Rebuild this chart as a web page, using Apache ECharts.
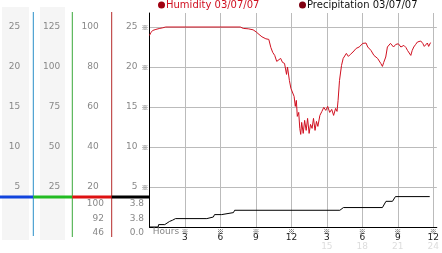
<!DOCTYPE html>
<html><head><meta charset="utf-8">
<script src="https://cdn.jsdelivr.net/npm/echarts@6/dist/echarts.min.js"></script>
<style>html,body{margin:0;padding:0;background:#fff}#c{width:442px;height:253px}</style>
</head><body><div id="c"></div>
<script>
// ---- data ----
const hours = [0,0.12,0.29,0.54,0.87,1.12,1.37,7.68,7.93,8.35,8.76,9.01,9.26,9.51,9.84,10.09,10.26,10.42,10.59,10.76,10.92,11.09,11.25,11.42,11.59,11.67,11.83,11.96,12.08,12.23,12.33,12.42,12.5,12.62,12.71,12.79,12.87,13.0,13.12,13.25,13.37,13.5,13.62,13.75,13.87,14.0,14.12,14.24,14.41,14.58,14.74,14.91,15.07,15.24,15.41,15.57,15.74,15.86,15.95,16.07,16.24,16.38,16.49,16.65,16.82,16.99,17.21,17.48,17.73,18.04,18.15,18.31,18.46,18.73,18.98,19.29,19.56,19.7,19.81,19.98,20.12,20.22,20.38,20.64,20.83,20.95,21.05,21.26,21.51,21.68,21.82,21.93,22.1,22.22,22.35,22.51,22.66,22.94,23.11,23.24,23.36,23.5,23.61,23.77];
const humidity = [95.8,97.3,98.3,98.8,99.3,99.6,100,100,99.3,99.1,98.6,97.6,96.3,95.1,94.1,93.8,89.8,87.3,85.8,82.8,81.8,84.3,82.3,81.8,76.3,80,73.3,69.3,70.3,65.3,60.3,63.3,55.3,57.3,49.3,46.3,52.3,46.8,53.3,48.3,54.3,46.8,51.3,49.3,54.3,48.3,52.8,50.3,55.8,57.8,59.8,58.3,60.3,57.3,58.8,55.8,59.3,57.8,63.3,73.3,80.8,84.3,85.3,86.8,85.3,86.3,87.5,89.3,90,91.8,91.3,92,90,88.3,85.8,84.3,81.8,80.3,82.3,85,90,90.8,91.8,90,91.3,90.8,91.6,90,90.8,89.8,88.3,89.3,85.8,88.3,90,91.3,92.5,93,91.8,90.3,91.3,92,90.3,92.2];
const precipHours = [0,0.73,0.77,1.29,1.43,1.7,1.95,2.2,4.85,4.97,5.4,5.5,6.1,6.2,7.1,7.2,16.1,16.4,19.7,20.0,20.55,20.8,23.7];
const precip = [0,0,0.3,0.3,0.5,0.7,0.85,1.05,1.05,1.25,1.25,1.55,1.55,1.8,1.8,2.09,2.09,2.43,2.43,3.21,3.21,3.8,3.8];
const leftTicks = [5,10,15,20,25];
const col2Ticks = [25,50,75,100,125];
const humTicks = [20,40,60,80,100];
const hourTicks = [3,6,9,12,15,18,21,24];
const hourLabels = ['3','6','9','12','3','6','9','12'];
const hourSecondRow = {15:'15',18:'18',21:'21',24:'24'};
const humName = 'Humidity 03/07/07';
const precName = 'Precipitation 03/07/07';

// ---- layout ----
const FONT = 'DejaVu Sans';
const GL = 149.5, GT = 13, GB = 227, PX = 8;
const yMax = (GB - GT) / PX;
const xMax = 24.3;
const colX = [33.3, 72.3, 111.7];
const LBL = '#888';
const MARK = '※';

const humMax = Math.round(Math.max(...humidity));
const humLast = Math.round(humidity[humidity.length - 1]);
const humMin = Math.round(Math.min(...humidity));
const prMax = Math.max(...precip).toFixed(1);
const prLast = precip[precip.length - 1].toFixed(1);
const prMin = Math.min(...precip).toFixed(1);

function yAx(o) {
  return Object.assign({
    type: 'value', position: 'left', min: 0,
    axisTick: {show: false}, axisLine: {show: false}, splitLine: {show: false},
    axisLabel: {color: LBL, fontSize: 9, fontFamily: FONT, margin: 13}
  }, o);
}
function pick(list) { return v => list.includes(v) ? String(v) : ''; }

const chart = echarts.init(document.getElementById('c'));
chart.setOption({
  animation: false,
  textStyle: {fontFamily: FONT},
  legend: [
    {data: [{name: humName, itemStyle: {color: '#a00010'}}], left: 158, top: 0, padding: 0, icon: 'circle', itemWidth: 7, itemHeight: 7,
     textStyle: {color: '#d01020', fontSize: 10, fontFamily: FONT, padding: [0, 0, 0, -4]}, selectedMode: false},
    {data: [{name: precName, itemStyle: {color: '#800010'}}], left: 299, top: 0, padding: 0, icon: 'circle', itemWidth: 7, itemHeight: 7,
     textStyle: {color: '#111', fontSize: 10, fontFamily: FONT, padding: [0, 0, 0, -4]}, selectedMode: false}
  ],
  grid: {left: GL, right: 0, top: GT, bottom: 253 - GB, containLabel: false},
  xAxis: {
    type: 'value', min: 0, max: xMax, interval: 3,
    axisLine: {show: true, lineStyle: {color: '#000', width: 1}},
    axisTick: {show: false},
    splitLine: {show: true, showMinLine: false, showMaxLine: false, lineStyle: {color: '#bbb', width: 1}},
    axisLabel: {
      margin: 1, showMaxLabel: true,
      formatter: v => {
        if (v === 0) return '{h|Hours}';
        const i = hourTicks.indexOf(v);
        if (i < 0) return '';
        let s = '{m|' + MARK + '}\n{v|' + hourLabels[i] + '}';
        if (hourSecondRow[v]) s += '\n{g|' + hourSecondRow[v] + '}';
        return s;
      },
      rich: {
        h: {fontSize: 9, color: LBL, lineHeight: 7, padding: [0, 0, 0, 33], fontFamily: FONT},
        m: {fontSize: 7, color: '#333', lineHeight: 6, fontFamily: 'Noto Sans CJK JP'},
        v: {fontSize: 9, color: '#222', lineHeight: 8, fontFamily: FONT},
        g: {fontSize: 9, color: '#ddd', lineHeight: 9, fontFamily: FONT}
      }
    }
  },
  yAxis: [
    yAx({max: yMax, interval: 5, offset: 0,
      axisLine: {show: true, lineStyle: {color: '#000', width: 1}},
      splitLine: {show: true, showMinLine: false, showMaxLine: false, lineStyle: {color: '#bbb', width: 1}},
      axisLabel: {margin: 1, formatter: v => leftTicks.includes(v) ? '{v|' + v + '}{m|' + MARK + '}' : '',
        rich: {v: {color: LBL, fontSize: 9, fontFamily: FONT}, m: {fontSize: 7, color: '#333', padding: [0, 0, 0, 4], fontFamily: 'Noto Sans CJK JP'}}}}),
    yAx({max: yMax * 4, interval: 20, offset: GL - colX[2], axisLabel: {color: LBL, fontSize: 9, fontFamily: FONT, margin: 13, formatter: pick(humTicks)}}),
    yAx({max: yMax * 5, interval: 25, offset: GL - colX[1], axisLabel: {color: LBL, fontSize: 9, fontFamily: FONT, margin: 12, formatter: pick(col2Ticks)}}),
    yAx({max: yMax, interval: 5, offset: GL - colX[0], axisLabel: {color: LBL, fontSize: 9, fontFamily: FONT, margin: 13, formatter: pick(leftTicks)}})
  ],
  graphic: [
    {type: 'rect', z: -10, shape: {x: 2, y: 7, width: 27, height: 233}, style: {fill: '#f5f5f5'}},
    {type: 'rect', z: -10, shape: {x: 40, y: 7, width: 25, height: 233}, style: {fill: '#f5f5f5'}},
    {type: 'line', shape: {x1: colX[0], y1: 12, x2: colX[0], y2: 236}, style: {stroke: '#2a8fc8', lineWidth: 1}},
    {type: 'line', shape: {x1: colX[1], y1: 12, x2: colX[1], y2: 237}, style: {stroke: '#3aa83a', lineWidth: 1}},
    {type: 'line', shape: {x1: colX[2], y1: 12, x2: colX[2], y2: 237}, style: {stroke: '#b52a2a', lineWidth: 1}},
    {type: 'rect', shape: {x: 0, y: 195.5, width: colX[0], height: 3}, style: {fill: '#1144dd'}},
    {type: 'rect', shape: {x: colX[0], y: 195.5, width: colX[1] - colX[0], height: 3}, style: {fill: '#22bb22'}},
    {type: 'rect', shape: {x: colX[1], y: 195.5, width: colX[2] - colX[1], height: 3}, style: {fill: '#dd1111'}},
    {type: 'rect', shape: {x: colX[2], y: 195.5, width: GL - colX[2], height: 3}, style: {fill: '#000'}},
    {type: 'text', style: {x: 104, y: 203.5, text: String(humMax), align: 'right', verticalAlign: 'middle', fill: LBL, font: '9px ' + FONT}},
    {type: 'text', style: {x: 104, y: 218.5, text: String(humLast), align: 'right', verticalAlign: 'middle', fill: LBL, font: '9px ' + FONT}},
    {type: 'text', style: {x: 104, y: 232.5, text: String(humMin), align: 'right', verticalAlign: 'middle', fill: LBL, font: '9px ' + FONT}},
    {type: 'text', style: {x: 144, y: 203.5, text: prMax, align: 'right', verticalAlign: 'middle', fill: LBL, font: '9px ' + FONT}},
    {type: 'text', style: {x: 144, y: 218.5, text: prLast, align: 'right', verticalAlign: 'middle', fill: LBL, font: '9px ' + FONT}},
    {type: 'text', style: {x: 144, y: 232.5, text: prMin, align: 'right', verticalAlign: 'middle', fill: LBL, font: '9px ' + FONT}}
  ],
  series: [
    {name: humName, type: 'line', xAxisIndex: 0, yAxisIndex: 1, showSymbol: false, symbol: 'none',
     lineStyle: {color: '#d01020', width: 1}, itemStyle: {color: '#d01020'},
     data: hours.map((h, i) => [h, humidity[i]])},
    {name: precName, type: 'line', xAxisIndex: 0, yAxisIndex: 0, showSymbol: false, symbol: 'none',
     lineStyle: {color: '#000', width: 1}, itemStyle: {color: '#000'},
     data: precipHours.map((h, i) => [h, precip[i]])}
  ]
});
</script>
</body></html>
